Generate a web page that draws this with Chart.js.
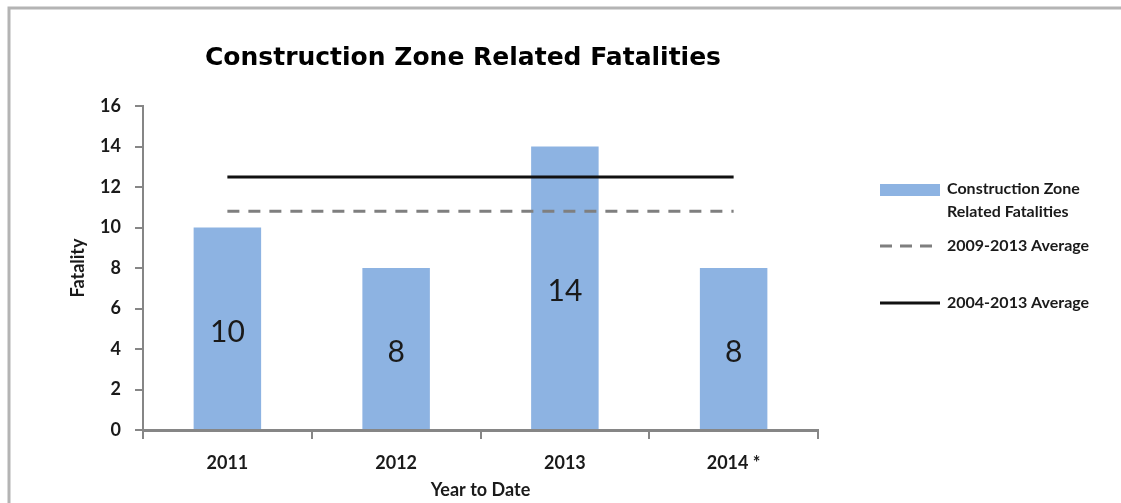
<!DOCTYPE html>
<html>
<head>
<meta charset="utf-8">
<script src="https://cdn.jsdelivr.net/npm/chart.js@4"></script>
<style>
  body { margin: 0; background: #fff; overflow: hidden; }
  #wrap { width: 1121px; height: 503px; position: relative; }
</style>
</head>
<body>
<div id="wrap"><canvas id="myChart"></canvas></div>
<script>
// data
const years = ['2011', '2012', '2013', '2014 *'];
const fatalities = [10, 8, 14, 8];
const avg2009_2013 = [10.8, 10.8, 10.8, 10.8];
const avg2004_2013 = [12.5, 12.5, 12.5, 12.5];
const legendLabels = [['Construction Zone', 'Related Fatalities'], ['2009-2013 Average'], ['2004-2013 Average']];

const barColor = '#8db3e2';
const axisColor = '#868686';
const textColor = '#1a1a1a';
const boldFont = { family: 'Lato', weight: 'bold', size: 18 };

// frame, title, bar labels and the legend on the right
const extras = {
    id: 'extras',
    beforeDraw(chart) {
        const ctx = chart.ctx;
        ctx.save();
        ctx.fillStyle = '#fff';
        ctx.fillRect(0, 0, chart.width, chart.height);
        ctx.strokeStyle = '#b4b4b4';
        ctx.lineWidth = 3;
        ctx.beginPath();
        ctx.moveTo(9, 503);
        ctx.lineTo(9, 8);
        ctx.lineTo(1121, 8);
        ctx.stroke();
        ctx.restore();
    },
    afterDatasetsDraw(chart) {
        const ctx = chart.ctx;
        const meta = chart.getDatasetMeta(2);
        ctx.save();
        ctx.font = '30px Lato';
        ctx.fillStyle = textColor;
        ctx.textAlign = 'center';
        ctx.textBaseline = 'middle';
        meta.data.forEach((bar, i) => {
            const y = (bar.y + bar.base) / 2 + 4;
            ctx.fillText(String(fatalities[i]), bar.x, y);
        });
        ctx.restore();
    },
    afterDraw(chart) {
        const ctx = chart.ctx;
        ctx.save();
        // title
        ctx.font = 'bold 25px "DejaVu Sans"';
        ctx.fillStyle = '#000';
        ctx.textAlign = 'center';
        ctx.textBaseline = 'middle';
        ctx.fillText('Construction Zone Related Fatalities', 463, 58);

        // legend
        ctx.font = 'bold 16px Lato';
        ctx.textAlign = 'left';
        ctx.fillStyle = barColor;
        ctx.fillRect(880, 184, 60, 12);
        ctx.fillStyle = textColor;
        ctx.fillText(legendLabels[0][0], 947, 189);
        ctx.fillText(legendLabels[0][1], 947, 212);

        ctx.strokeStyle = '#7f7f7f';
        ctx.lineWidth = 3;
        ctx.setLineDash([12, 8]);
        ctx.beginPath();
        ctx.moveTo(880, 246);
        ctx.lineTo(934, 246);
        ctx.stroke();
        ctx.fillText(legendLabels[1][0], 947, 246);

        ctx.strokeStyle = '#111';
        ctx.setLineDash([]);
        ctx.beginPath();
        ctx.moveTo(880, 303);
        ctx.lineTo(940, 303);
        ctx.stroke();
        ctx.fillText(legendLabels[2][0], 947, 303);
        ctx.restore();
    }
};

const ctx = document.getElementById('myChart');
const myChart = new Chart(ctx, {
    data: {
        labels: years,
        datasets: [
            {
                type: 'line',
                label: '2004-2013 Average',
                data: avg2004_2013,
                borderColor: '#111',
                borderWidth: 3,
                pointRadius: 0,
                order: 1
            },
            {
                type: 'line',
                label: '2009-2013 Average',
                data: avg2009_2013,
                borderColor: '#7f7f7f',
                borderWidth: 3,
                borderDash: [12, 9],
                pointRadius: 0,
                order: 1
            },
            {
                type: 'bar',
                label: 'Construction Zone Related Fatalities',
                data: fatalities,
                backgroundColor: barColor,
                barPercentage: 0.8,
                categoryPercentage: 0.5,
                order: 2
            }
        ]
    },
    options: {
        responsive: true,
        maintainAspectRatio: false,
        animation: false,
        layout: { padding: { left: 0, top: 106, right: 303, bottom: 0 } },
        plugins: {
            legend: { display: false },
            title: { display: false },
            tooltip: { enabled: false }
        },
        scales: {
            x: {
                grid: { drawOnChartArea: false, tickLength: 9, color: axisColor, lineWidth: 2, offset: true },
                border: { color: axisColor, width: 3 },
                ticks: { font: boldFont, color: textColor, padding: 13 },
                title: { display: true, text: 'Year to Date', font: boldFont, color: textColor, padding: { top: 0, bottom: 2 } },
                afterFit(s) { s.height = 73; }
            },
            y: {
                min: 0,
                max: 16,
                ticks: { stepSize: 2, font: boldFont, color: textColor, padding: 14 },
                grid: { drawOnChartArea: false, tickLength: 8, color: axisColor, lineWidth: 2 },
                border: { color: axisColor, width: 2 },
                title: { display: true, text: 'Fatality', font: boldFont, color: textColor, padding: { top: 67, bottom: 0 } },
                afterFit(s) { s.width = 143; }
            }
        }
    },
    plugins: [extras]
});
</script>
</body>
</html>
